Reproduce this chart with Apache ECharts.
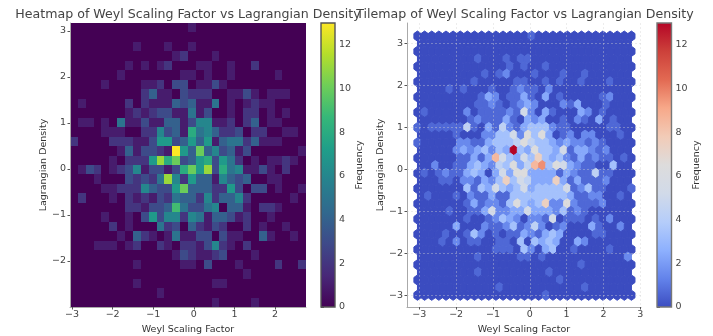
<!DOCTYPE html>
<html><head><meta charset="utf-8">
<style>html,body{margin:0;padding:0;background:#fff}#c{width:713px;height:336px}</style>
<script src="https://cdn.jsdelivr.net/npm/echarts@6/dist/echarts.min.js"></script>
</head><body><div id="c"></div>
<script>
// ---------- labels ----------
const heatTitle = 'Heatmap of Weyl Scaling Factor vs Lagrangian Density';
const hexTitle = 'Tilemap of Weyl Scaling Factor vs Lagrangian Density';
const xName = 'Weyl Scaling Factor';
const yName = 'Lagrangian Density';
const barName = 'Frequency';
const heatXTicks = [-3,-2,-1,0,1,2];
const heatYTicks = [-2,-1,0,1,2,3];
const hexXTicks = [-3,-2,-1,0,1,2,3];
const hexYTicks = [-3,-2,-1,0,1,2,3];
const barTicks = [0,2,4,6,8,10,12];
// ---------- data extent of the samples, number of bins ----------
const dataX = [-3.05, 2.76];
const dataY = [-3.0, 3.17];
const heatBins = 30;
const hexNx = 30, hexNy = 17;
const countMax = 13;
// ---------- heatmap counts: one list per row, top row first, as [column, count] ----------
const heatRows = [
[[15,1]],
[],
[[8,1],[12,1],[15,1]],
[[13,1],[14,2],[18,1]],
[[7,1],[9,1],[11,1],[12,2],[16,1],[17,1],[20,1],[23,2]],
[[6,1],[14,1],[15,1],[17,1],[20,1],[26,1]],
[[4,1],[9,1],[10,1],[11,2],[13,3],[14,3],[16,1],[17,1],[18,3],[19,1]],
[[9,2],[10,4],[11,1],[12,1],[14,3],[15,2],[16,2],[17,2],[20,1],[21,1],[22,3],[23,1],[25,1],[26,1],[27,1]],
[[1,1],[7,2],[9,2],[10,1],[11,1],[12,1],[13,4],[14,3],[15,4],[16,1],[17,1],[18,5],[20,1],[22,1],[23,2],[24,1],[25,1]],
[[7,1],[8,2],[9,1],[10,2],[11,3],[12,3],[13,1],[14,1],[15,5],[16,1],[17,3],[20,1],[22,2],[23,2],[25,1],[27,1]],
[[1,1],[2,1],[4,1],[6,5],[7,1],[8,1],[9,3],[10,1],[11,1],[12,4],[13,4],[14,1],[15,3],[16,6],[17,6],[18,1],[19,1],[20,2],[22,2],[23,4],[25,1],[26,1]],
[[4,1],[5,1],[6,1],[9,2],[10,2],[11,6],[12,3],[13,4],[14,1],[15,8],[16,5],[17,6],[18,4],[19,2],[20,2],[21,3],[23,2],[24,2],[27,1],[28,1]],
[[0,2],[5,2],[6,2],[7,2],[8,1],[9,1],[10,3],[11,7],[12,7],[13,3],[14,4],[15,7],[16,4],[17,7],[18,1],[19,4],[20,5],[21,5],[22,2],[23,4],[24,1],[25,1],[26,1]],
[[6,1],[7,4],[8,1],[9,3],[10,3],[11,2],[12,1],[13,13],[14,7],[15,4],[16,10],[17,4],[18,6],[19,3],[20,4],[21,1],[22,3],[29,1]],
[[5,1],[7,2],[8,2],[9,2],[10,7],[11,11],[12,8],[13,10],[14,3],[15,4],[16,7],[17,8],[18,3],[19,7],[20,5],[21,2],[23,1],[25,1],[26,1],[27,2],[28,1]],
[[1,1],[2,3],[3,2],[5,1],[6,2],[7,3],[8,6],[9,1],[10,3],[11,3],[12,1],[13,3],[14,8],[15,10],[16,7],[17,11],[18,3],[19,8],[20,5],[21,6],[22,1],[23,1],[24,3],[25,1],[27,2]],
[[3,1],[7,3],[8,2],[9,3],[10,2],[11,5],[12,11],[13,6],[14,2],[15,7],[16,4],[17,4],[18,1],[19,6],[20,4],[21,3],[22,4],[25,1],[26,1]],
[[4,1],[5,1],[6,2],[7,2],[8,2],[9,6],[10,4],[11,3],[12,3],[13,7],[14,10],[15,4],[16,4],[17,4],[18,2],[19,2],[20,7],[21,3],[23,3],[24,3],[26,1],[29,1]],
[[1,2],[5,1],[7,2],[8,1],[9,2],[10,1],[11,3],[12,2],[13,5],[14,4],[15,4],[16,2],[17,6],[18,2],[19,4],[20,4],[21,6],[22,2],[28,1]],
[[7,2],[8,2],[9,1],[10,3],[11,3],[12,4],[13,9],[14,5],[15,3],[16,3],[17,5],[18,6],[20,4],[21,4],[22,1],[24,2],[25,2],[26,1]],
[[4,1],[7,1],[9,3],[10,7],[11,3],[12,6],[13,6],[14,2],[15,6],[16,5],[17,1],[18,4],[19,4],[20,3],[21,1],[22,2],[25,1]],
[[5,2],[7,1],[11,5],[12,2],[13,3],[15,4],[16,2],[17,1],[18,3],[19,2],[22,2],[24,1],[27,1]],
[[6,1],[8,4],[9,2],[10,1],[12,1],[13,5],[14,1],[15,1],[16,3],[17,3],[19,3],[20,1],[21,1],[24,4],[25,1],[28,1]],
[[3,1],[4,1],[5,1],[7,1],[8,2],[11,2],[12,1],[14,2],[15,2],[16,1],[17,3],[18,6],[19,2],[20,1],[22,2]],
[[13,1],[14,3],[15,2],[16,1],[17,1],[18,2],[19,3],[23,1]],
[[8,1],[14,1],[15,1],[17,3],[21,1],[26,2],[29,2]],
[[22,1]],
[[8,1],[18,1],[19,1]],
[[11,1]],
[[18,1],[23,1]]
];
// ---------- hexbin counts: one list per hex row, top row first, as [index in row, count] ----------
const hexRows = [
[[16,1]],
[],
[],
[[8,1],[12,1],[14,1],[15,1]],
[[13,1],[15,1],[18,1]],
[[9,1],[11,1],[12,2],[16,1],[20,1],[23,1]],
[[8,1],[14,1],[15,1],[18,1],[20,1],[23,1],[27,1]],
[[4,1],[6,1],[10,1],[13,1],[14,2],[15,1],[16,1],[18,2]],
[[9,1],[10,3],[11,2],[13,1],[14,1],[15,3],[16,1],[18,3],[20,1],[26,1],[27,2]],
[[8,1],[9,1],[10,2],[11,1],[13,1],[14,2],[15,3],[16,2],[20,2],[21,1],[22,3],[26,1]],
[[1,1],[7,2],[9,1],[10,1],[11,1],[12,1],[13,2],[14,1],[15,6],[16,2],[18,3],[19,1],[23,3],[24,2],[26,1]],
[[7,1],[8,2],[9,1],[10,1],[11,1],[12,3],[13,1],[15,3],[16,2],[17,3],[20,1],[22,2],[23,1],[25,3],[27,1]],
[[0,1],[2,1],[3,1],[4,1],[5,1],[6,1],[7,5],[8,1],[10,3],[11,1],[12,5],[13,2],[14,1],[15,3],[16,4],[17,4],[18,4],[19,2],[20,1],[21,1],[27,1],[28,1]],
[[5,1],[9,2],[10,2],[11,4],[12,4],[13,6],[14,2],[15,7],[16,4],[17,7],[18,3],[20,1],[21,2],[23,2],[24,2],[28,1]],
[[0,1],[6,2],[7,2],[8,1],[9,1],[10,3],[11,4],[12,4],[13,4],[14,5],[15,7],[16,5],[17,4],[18,4],[19,3],[20,2],[21,3],[22,2],[23,2],[24,1],[25,2],[26,1]],
[[5,2],[6,3],[7,2],[8,3],[9,4],[10,2],[11,4],[12,3],[13,13],[14,4],[15,3],[16,7],[17,4],[18,4],[19,3],[20,6],[21,1],[22,3],[23,3],[24,2],[25,1],[26,2]],
[[6,1],[7,1],[8,3],[9,1],[10,3],[11,9],[12,6],[13,4],[14,3],[15,6],[16,4],[17,8],[18,4],[19,3],[20,4],[21,2],[22,1],[23,3],[24,1],[25,2],[26,1],[27,1],[29,1]],
[[2,2],[5,1],[6,1],[7,3],[8,4],[9,3],[10,2],[11,5],[12,4],[13,7],[14,3],[15,5],[16,9],[17,10],[18,4],[19,7],[20,6],[21,3],[22,2],[23,1],[24,1],[27,4]],
[[1,1],[3,1],[4,2],[5,1],[6,1],[7,3],[8,4],[9,3],[11,3],[12,6],[13,3],[14,7],[15,7],[16,3],[17,3],[18,3],[19,3],[20,1],[21,3],[22,2],[23,1],[24,1],[25,5],[26,1],[27,1]],
[[3,1],[4,1],[6,2],[7,2],[8,1],[9,3],[10,2],[11,4],[12,8],[13,4],[14,6],[15,5],[16,3],[17,3],[18,3],[19,8],[20,3],[21,1],[22,3],[23,1],[24,1],[25,1],[26,2]],
[[7,4],[8,1],[9,4],[10,3],[11,6],[12,4],[13,3],[14,4],[15,6],[16,3],[17,4],[18,4],[19,4],[20,4],[21,6],[22,1],[23,2],[24,4],[25,1],[26,1],[30,1]],
[[1,1],[5,1],[7,2],[8,1],[9,1],[10,3],[11,1],[12,1],[13,4],[14,4],[15,4],[16,4],[17,4],[18,4],[19,4],[20,4],[21,3],[22,1],[23,1],[24,2],[25,2],[28,1]],
[[7,1],[8,3],[9,1],[10,2],[11,2],[12,1],[13,4],[14,7],[15,4],[16,3],[17,4],[18,8],[19,2],[20,2],[21,7],[22,2],[23,1],[24,1],[25,1],[26,2]],
[[4,1],[7,1],[8,1],[9,3],[10,6],[11,2],[12,2],[13,3],[14,3],[15,6],[16,3],[17,3],[18,3],[19,2],[20,4],[21,1],[22,2],[23,1]],
[[7,1],[10,1],[11,2],[12,4],[13,3],[14,2],[16,2],[17,2],[18,1],[19,6],[21,1],[22,1],[23,1],[25,1],[27,2]],
[[5,3],[9,2],[10,1],[11,1],[12,2],[13,4],[14,1],[15,2],[16,5],[17,2],[19,1],[20,2],[24,3],[25,1],[28,2]],
[[4,1],[7,1],[8,4],[9,2],[11,1],[13,1],[14,1],[15,3],[16,2],[17,1],[18,3],[19,4],[20,3],[25,1],[26,1]],
[[3,1],[5,2],[7,1],[8,1],[11,1],[12,1],[14,4],[16,4],[17,3],[18,4],[19,3],[22,3],[23,2]],
[[11,1],[12,1],[13,1],[15,4],[16,2],[18,3],[19,4],[22,1],[27,1]],
[[8,1],[14,1],[15,1],[17,1],[29,2]],
[[23,1]],
[[8,1],[18,1]],
[[20,1]],
[[11,1],[23,1]],
[[18,1]]
];
// ---------- colour ramps ----------
const viridis = ['#440154','#482878','#3e4989','#31688e','#26828e','#1f9e89','#35b779','#6ece58','#b5de2b','#fde725'];
const coolwarm = ['#3b4cc0','#6282ea','#8db0fe','#b5cdfa','#d1dae9','#dddcdc','#f2cbb7','#f7a889','#e26952','#cc403a','#b40426'];

function rampColor(ramp, t) {
  const p = Math.max(0, Math.min(1, t)) * (ramp.length - 1);
  const k = Math.min(Math.floor(p), ramp.length - 2), f = p - k;
  const a = parseInt(ramp[k].slice(1), 16), b = parseInt(ramp[k + 1].slice(1), 16);
  const mix = s => Math.round(((a >> s) & 255) * (1 - f) + ((b >> s) & 255) * f);
  return 'rgb(' + mix(16) + ',' + mix(8) + ',' + mix(0) + ')';
}

// Dense tables built from the lists above
const heatData = [];
const bw = (dataX[1] - dataX[0]) / heatBins, bh = (dataY[1] - dataY[0]) / heatBins;
heatRows.forEach((row, j) => {
  const vals = new Array(heatBins).fill(0);
  row.forEach(([c, v]) => { vals[c] = v; });
  vals.forEach((v, c) => heatData.push([dataX[0] + c * bw, dataY[1] - j * bh, v]));
});
const hexData = [];
const sx = (dataX[1] - dataX[0]) / hexNx, sy = (dataY[1] - dataY[0]) / hexNy;
hexRows.forEach((row, t) => {
  const odd = t % 2 === 1, n = odd ? hexNx : hexNx + 1;
  const vals = new Array(n).fill(0);
  row.forEach(([i, v]) => { vals[i] = v; });
  vals.forEach((v, i) => hexData.push([dataX[0] + (i + (odd ? 0.5 : 0)) * sx, dataY[1] - t * sy / 2, v]));
});

const ink = '#444444', spine = '#aaaaaa';
const font = 'DejaVu Sans';
const gridStyle = { show: true, lineStyle: { color: 'rgba(210,210,210,0.4)', type: [2, 2], width: 1 } };

function mainAxis(name, range, ticks, gap, grid, showGrid) {
  return {
    type: 'value', gridIndex: grid, min: range[0], max: range[1], z: 5,
    name, nameLocation: 'middle', nameGap: gap,
    nameTextStyle: { fontFamily: font, fontSize: 9.5, color: '#333333' },
    axisLine: { show: true, onZero: false, lineStyle: { color: spine, width: 1 } },
    axisTick: { show: true, length: 2.5, customValues: ticks, lineStyle: { color: '#555555', width: 1 } },
    axisLabel: { show: true, customValues: ticks, fontFamily: font, fontSize: 9.5, color: ink, margin: 4,
      showMinLabel: true, showMaxLabel: true,
      formatter: v => String(v).replace('-', '\u2212') },
    splitLine: showGrid ? gridStyle : { show: false }
  };
}
function xMainAxis(name, range, ticks, grid, showGrid) {
  const a = mainAxis(name, range, ticks, 14, grid, showGrid);
  a.axisLabel.margin = 3;
  return a;
}
function barAxis(grid, gap) {
  return {
    type: 'value', gridIndex: grid, position: 'right', min: 0, max: countMax,
    name: barName, nameLocation: 'middle', nameGap: gap, nameRotate: 90,
    nameTextStyle: { fontFamily: font, fontSize: 9.5, color: '#333333', verticalAlign: 'bottom' },
    axisLine: { show: false },
    axisTick: { show: true, length: 3, customValues: barTicks, lineStyle: { color: '#555555', width: 1 } },
    axisLabel: { show: true, customValues: barTicks, fontFamily: font, fontSize: 9.5, color: ink, margin: 4 },
    splitLine: { show: false }
  };
}
function hiddenX(grid) {
  return { type: 'value', gridIndex: grid, min: 0, max: 1, show: false, splitLine: { show: false } };
}
function barSeries(ax, ramp, stroke) {
  return {
    type: 'custom', xAxisIndex: ax, yAxisIndex: ax, silent: true, animation: false, clip: false,
    data: [[0, 0, 1, countMax]],
    encode: { x: [0, 2], y: [1, 3] },
    renderItem(p, api) {
      const a = api.coord([api.value(0), api.value(1)]), b = api.coord([api.value(2), api.value(3)]);
      return { type: 'rect',
        shape: { x: a[0], y: b[1], width: b[0] - a[0], height: a[1] - b[1] },
        style: { stroke, lineWidth: 1.4,
          fill: new echarts.graphic.LinearGradient(0, 1, 0, 0,
            ramp.map((c, i) => ({ offset: i / (ramp.length - 1), color: c }))) } };
    }
  };
}

const chart = echarts.init(document.getElementById('c'), null, { renderer: 'canvas' });
chart.setOption({
  animation: false,
  backgroundColor: '#ffffff',
  title: [
    { text: heatTitle, left: 188, top: 8, padding: 0, textAlign: 'center', textStyle: { fontFamily: font, fontSize: 12.6, fontWeight: 'normal', color: ink } },
    { text: hexTitle, left: 525, top: 8, padding: 0, textAlign: 'center', textStyle: { fontFamily: font, fontSize: 12.6, fontWeight: 'normal', color: ink } }
  ],
  grid: [
    { left: 70, width: 236, top: 23, height: 284, outerBoundsMode: 'none' },
    { left: 407, width: 234, top: 23, height: 284, outerBoundsMode: 'none' },
    { left: 321, width: 14, top: 23, height: 284, outerBoundsMode: 'none' },
    { left: 657, width: 14.5, top: 23, height: 284, outerBoundsMode: 'none' }
  ],
  xAxis: [
    xMainAxis(xName, dataX, heatXTicks, 0, false),
    xMainAxis(xName, [-3.334, 3.02], hexXTicks, 1, true),
    hiddenX(2), hiddenX(3)
  ],
  yAxis: [
    mainAxis(yName, dataY, heatYTicks, 16, 0, false),
    mainAxis(yName, [-3.28, 3.482], hexYTicks, 18, 1, true),
    barAxis(2, 17), barAxis(3, 16)
  ],
  series: [
    {
      type: 'custom', xAxisIndex: 0, yAxisIndex: 0, silent: true, animation: false,
      data: heatData, encode: { x: 0, y: 1 },
      renderItem(p, api) {
        const x = api.value(0), y = api.value(1), v = api.value(2);
        const a = api.coord([x, y]), b = api.coord([x + bw, y - bh]);
        const x0 = Math.round(a[0]), y0 = Math.round(a[1]);
        return { type: 'rect', shape: { x: x0, y: y0, width: Math.round(b[0]) - x0, height: Math.round(b[1]) - y0 },
          style: { fill: rampColor(viridis, v / countMax) } };
      }
    },
    {
      type: 'custom', xAxisIndex: 1, yAxisIndex: 1, silent: true, animation: false,
      data: hexData, encode: { x: 0, y: 1 },
      renderItem(p, api) {
        const x = api.value(0), y = api.value(1), v = api.value(2);
        const pts = [[.5, -.5], [.5, .5], [0, 1], [-.5, .5], [-.5, -.5], [0, -1]]
          .map(o => api.coord([x + o[0] * sx, y + o[1] * sy / 3]));
        const col = rampColor(coolwarm, Math.pow(v / countMax, 1.15));
        return { type: 'polygon', shape: { points: pts }, style: { fill: col, stroke: col, lineWidth: 1 } };
      }
    },
    barSeries(2, viridis, '#555555'),
    barSeries(3, coolwarm, '#777777')
  ]
});
</script></body></html>
